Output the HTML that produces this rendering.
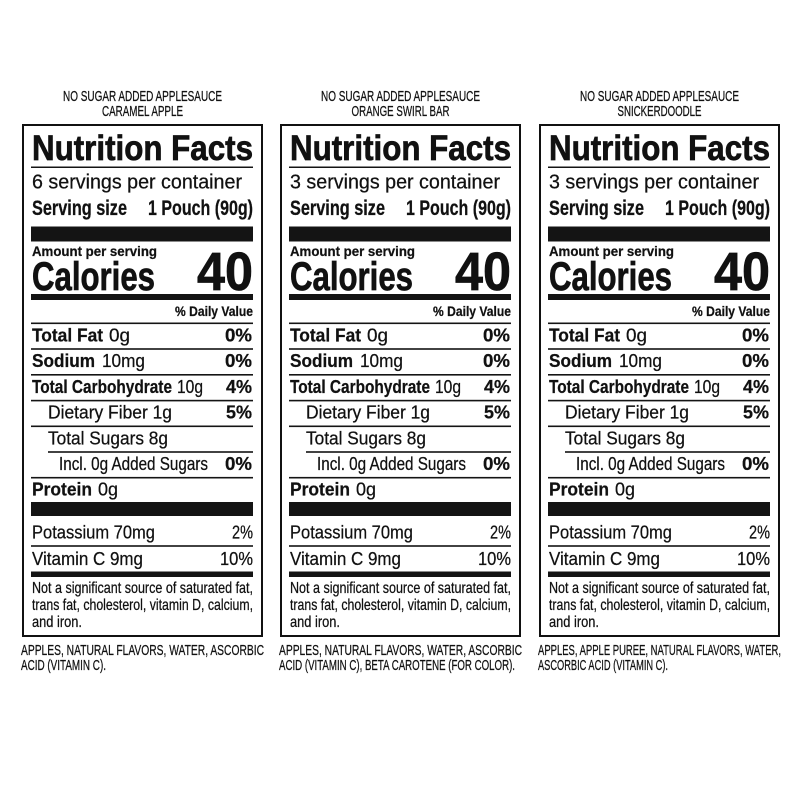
<!DOCTYPE html>
<html>
<head>
<meta charset="utf-8">
<style>
  html,body{margin:0;padding:0;background:#fff;}
  svg{display:block;}
  text{font-family:"Liberation Sans", Arial, sans-serif;fill:#111;stroke:#111;stroke-width:0.25;}
  .b{font-weight:bold;}
  .h{stroke:#111;stroke-width:0.7;}
  rect.f{fill:#141414;stroke:none;}
</style>
</head>
<body>
<svg width="800" height="800" viewBox="0 0 800 800" xmlns="http://www.w3.org/2000/svg">
<rect x="0" y="0" width="800" height="800" fill="#fff"/>

<!-- PANEL 1 -->
<g transform="translate(0,0)">
<text x="142.5" y="101" font-size="14.5" text-anchor="middle" textLength="159" lengthAdjust="spacingAndGlyphs">NO SUGAR ADDED APPLESAUCE</text>
<text x="142.5" y="116" font-size="14.5" text-anchor="middle" textLength="81" lengthAdjust="spacingAndGlyphs">CARAMEL APPLE</text>
<rect x="23" y="125" width="239" height="511" fill="none" stroke="#111" stroke-width="2"/>
<text class="b h" x="32" y="160" font-size="35" textLength="221" lengthAdjust="spacingAndGlyphs">Nutrition Facts</text>
<rect class="f" x="31" y="166.5" width="222" height="1.5"/>
<text x="32" y="188.5" font-size="20" textLength="210" lengthAdjust="spacingAndGlyphs">6 servings per container</text>
<text class="b" x="32" y="215" font-size="21" textLength="95" lengthAdjust="spacingAndGlyphs">Serving size</text>
<text class="b" x="148" y="215" font-size="21" textLength="105" lengthAdjust="spacingAndGlyphs">1 Pouch (90g)</text>
<rect class="f" x="31" y="226.5" width="222" height="15"/>
<text class="b" x="32" y="256" font-size="13.5" textLength="125" lengthAdjust="spacingAndGlyphs">Amount per serving</text>
<text class="b h" x="32" y="290" font-size="40" textLength="123" lengthAdjust="spacingAndGlyphs">Calories</text>
<text class="b h" x="197" y="290" font-size="54" textLength="56" lengthAdjust="spacingAndGlyphs">40</text>
<rect class="f" x="31" y="294" width="222" height="6"/>
<text class="b" x="175" y="316" font-size="14" textLength="78" lengthAdjust="spacingAndGlyphs">% Daily Value</text>
<rect class="f" x="31" y="322.5" width="222" height="1.6"/>
<text class="b" x="32" y="341.5" font-size="18.5" textLength="71" lengthAdjust="spacingAndGlyphs">Total Fat</text>
<text x="109" y="341.5" font-size="18.5" textLength="21" lengthAdjust="spacingAndGlyphs">0g</text>
<text class="b" x="225" y="341.5" font-size="18.5" textLength="27" lengthAdjust="spacingAndGlyphs">0%</text>
<rect class="f" x="31" y="348.2" width="222" height="1.6"/>
<text class="b" x="32" y="367.2" font-size="18.5" textLength="63" lengthAdjust="spacingAndGlyphs">Sodium</text>
<text x="102" y="367.2" font-size="18.5" textLength="43" lengthAdjust="spacingAndGlyphs">10mg</text>
<text class="b" x="225" y="367.2" font-size="18.5" textLength="27" lengthAdjust="spacingAndGlyphs">0%</text>
<rect class="f" x="31" y="374" width="222" height="1.6"/>
<text class="b" x="32" y="392.9" font-size="18.5" textLength="140" lengthAdjust="spacingAndGlyphs">Total Carbohydrate</text>
<text x="177" y="392.9" font-size="18.5" textLength="26" lengthAdjust="spacingAndGlyphs">10g</text>
<text class="b" x="226" y="392.9" font-size="18.5" textLength="26" lengthAdjust="spacingAndGlyphs">4%</text>
<rect class="f" x="31" y="399.8" width="222" height="1.6"/>
<text x="48" y="418.6" font-size="18.5" textLength="124" lengthAdjust="spacingAndGlyphs">Dietary Fiber 1g</text>
<text class="b" x="226" y="418.6" font-size="18.5" textLength="26" lengthAdjust="spacingAndGlyphs">5%</text>
<rect class="f" x="31" y="425.5" width="222" height="1.6"/>
<text x="48" y="444.3" font-size="18.5" textLength="120" lengthAdjust="spacingAndGlyphs">Total Sugars 8g</text>
<rect class="f" x="48" y="451.2" width="205" height="1.6"/>
<text x="59" y="470" font-size="18.5" textLength="149" lengthAdjust="spacingAndGlyphs">Incl. 0g Added Sugars</text>
<text class="b" x="225" y="470" font-size="18.5" textLength="27" lengthAdjust="spacingAndGlyphs">0%</text>
<rect class="f" x="31" y="476.9" width="222" height="1.6"/>
<text class="b" x="32" y="495.7" font-size="18.5" textLength="60" lengthAdjust="spacingAndGlyphs">Protein</text>
<text x="98" y="495.7" font-size="18.5" textLength="20" lengthAdjust="spacingAndGlyphs">0g</text>
<rect class="f" x="31" y="502" width="222" height="14"/>
<text x="32" y="538.5" font-size="18.5" textLength="123" lengthAdjust="spacingAndGlyphs">Potassium 70mg</text>
<text x="232" y="538.5" font-size="18.5" textLength="21" lengthAdjust="spacingAndGlyphs">2%</text>
<rect class="f" x="31" y="545.2" width="222" height="1.6"/>
<text x="32" y="565" font-size="18.5" textLength="111" lengthAdjust="spacingAndGlyphs">Vitamin C 9mg</text>
<text x="220" y="565" font-size="18.5" textLength="33" lengthAdjust="spacingAndGlyphs">10%</text>
<rect class="f" x="31" y="571.5" width="222" height="5.5"/>
<text x="32" y="593" font-size="16" textLength="221" lengthAdjust="spacingAndGlyphs">Not a significant source of saturated fat,</text>
<text x="32" y="610" font-size="16" textLength="221" lengthAdjust="spacingAndGlyphs">trans fat, cholesterol, vitamin D, calcium,</text>
<text x="32" y="627" font-size="16" textLength="50" lengthAdjust="spacingAndGlyphs">and iron.</text>
<text x="21" y="655" font-size="14.5" textLength="243" lengthAdjust="spacingAndGlyphs">APPLES, NATURAL FLAVORS, WATER, ASCORBIC</text>
<text x="21" y="670" font-size="14.5" textLength="85" lengthAdjust="spacingAndGlyphs">ACID (VITAMIN C).</text>
</g>

<!-- PANEL 2 -->
<g transform="translate(258,0)">
<text x="142.5" y="101" font-size="14.5" text-anchor="middle" textLength="159" lengthAdjust="spacingAndGlyphs">NO SUGAR ADDED APPLESAUCE</text>
<text x="142.5" y="116" font-size="14.5" text-anchor="middle" textLength="98" lengthAdjust="spacingAndGlyphs">ORANGE SWIRL BAR</text>
<rect x="23" y="125" width="239" height="511" fill="none" stroke="#111" stroke-width="2"/>
<text class="b h" x="32" y="160" font-size="35" textLength="221" lengthAdjust="spacingAndGlyphs">Nutrition Facts</text>
<rect class="f" x="31" y="166.5" width="222" height="1.5"/>
<text x="32" y="188.5" font-size="20" textLength="210" lengthAdjust="spacingAndGlyphs">3 servings per container</text>
<text class="b" x="32" y="215" font-size="21" textLength="95" lengthAdjust="spacingAndGlyphs">Serving size</text>
<text class="b" x="148" y="215" font-size="21" textLength="105" lengthAdjust="spacingAndGlyphs">1 Pouch (90g)</text>
<rect class="f" x="31" y="226.5" width="222" height="15"/>
<text class="b" x="32" y="256" font-size="13.5" textLength="125" lengthAdjust="spacingAndGlyphs">Amount per serving</text>
<text class="b h" x="32" y="290" font-size="40" textLength="123" lengthAdjust="spacingAndGlyphs">Calories</text>
<text class="b h" x="197" y="290" font-size="54" textLength="56" lengthAdjust="spacingAndGlyphs">40</text>
<rect class="f" x="31" y="294" width="222" height="6"/>
<text class="b" x="175" y="316" font-size="14" textLength="78" lengthAdjust="spacingAndGlyphs">% Daily Value</text>
<rect class="f" x="31" y="322.5" width="222" height="1.6"/>
<text class="b" x="32" y="341.5" font-size="18.5" textLength="71" lengthAdjust="spacingAndGlyphs">Total Fat</text>
<text x="109" y="341.5" font-size="18.5" textLength="21" lengthAdjust="spacingAndGlyphs">0g</text>
<text class="b" x="225" y="341.5" font-size="18.5" textLength="27" lengthAdjust="spacingAndGlyphs">0%</text>
<rect class="f" x="31" y="348.2" width="222" height="1.6"/>
<text class="b" x="32" y="367.2" font-size="18.5" textLength="63" lengthAdjust="spacingAndGlyphs">Sodium</text>
<text x="102" y="367.2" font-size="18.5" textLength="43" lengthAdjust="spacingAndGlyphs">10mg</text>
<text class="b" x="225" y="367.2" font-size="18.5" textLength="27" lengthAdjust="spacingAndGlyphs">0%</text>
<rect class="f" x="31" y="374" width="222" height="1.6"/>
<text class="b" x="32" y="392.9" font-size="18.5" textLength="140" lengthAdjust="spacingAndGlyphs">Total Carbohydrate</text>
<text x="177" y="392.9" font-size="18.5" textLength="26" lengthAdjust="spacingAndGlyphs">10g</text>
<text class="b" x="226" y="392.9" font-size="18.5" textLength="26" lengthAdjust="spacingAndGlyphs">4%</text>
<rect class="f" x="31" y="399.8" width="222" height="1.6"/>
<text x="48" y="418.6" font-size="18.5" textLength="124" lengthAdjust="spacingAndGlyphs">Dietary Fiber 1g</text>
<text class="b" x="226" y="418.6" font-size="18.5" textLength="26" lengthAdjust="spacingAndGlyphs">5%</text>
<rect class="f" x="31" y="425.5" width="222" height="1.6"/>
<text x="48" y="444.3" font-size="18.5" textLength="120" lengthAdjust="spacingAndGlyphs">Total Sugars 8g</text>
<rect class="f" x="48" y="451.2" width="205" height="1.6"/>
<text x="59" y="470" font-size="18.5" textLength="149" lengthAdjust="spacingAndGlyphs">Incl. 0g Added Sugars</text>
<text class="b" x="225" y="470" font-size="18.5" textLength="27" lengthAdjust="spacingAndGlyphs">0%</text>
<rect class="f" x="31" y="476.9" width="222" height="1.6"/>
<text class="b" x="32" y="495.7" font-size="18.5" textLength="60" lengthAdjust="spacingAndGlyphs">Protein</text>
<text x="98" y="495.7" font-size="18.5" textLength="20" lengthAdjust="spacingAndGlyphs">0g</text>
<rect class="f" x="31" y="502" width="222" height="14"/>
<text x="32" y="538.5" font-size="18.5" textLength="123" lengthAdjust="spacingAndGlyphs">Potassium 70mg</text>
<text x="232" y="538.5" font-size="18.5" textLength="21" lengthAdjust="spacingAndGlyphs">2%</text>
<rect class="f" x="31" y="545.2" width="222" height="1.6"/>
<text x="32" y="565" font-size="18.5" textLength="111" lengthAdjust="spacingAndGlyphs">Vitamin C 9mg</text>
<text x="220" y="565" font-size="18.5" textLength="33" lengthAdjust="spacingAndGlyphs">10%</text>
<rect class="f" x="31" y="571.5" width="222" height="5.5"/>
<text x="32" y="593" font-size="16" textLength="221" lengthAdjust="spacingAndGlyphs">Not a significant source of saturated fat,</text>
<text x="32" y="610" font-size="16" textLength="221" lengthAdjust="spacingAndGlyphs">trans fat, cholesterol, vitamin D, calcium,</text>
<text x="32" y="627" font-size="16" textLength="50" lengthAdjust="spacingAndGlyphs">and iron.</text>
<text x="21" y="655" font-size="14.5" textLength="243" lengthAdjust="spacingAndGlyphs">APPLES, NATURAL FLAVORS, WATER, ASCORBIC</text>
<text x="21" y="670" font-size="14.5" textLength="236" lengthAdjust="spacingAndGlyphs">ACID (VITAMIN C), BETA CAROTENE (FOR COLOR).</text>
</g>

<!-- PANEL 3 -->
<g transform="translate(517,0)">
<text x="142.5" y="101" font-size="14.5" text-anchor="middle" textLength="159" lengthAdjust="spacingAndGlyphs">NO SUGAR ADDED APPLESAUCE</text>
<text x="142.5" y="116" font-size="14.5" text-anchor="middle" textLength="84" lengthAdjust="spacingAndGlyphs">SNICKERDOODLE</text>
<rect x="23" y="125" width="239" height="511" fill="none" stroke="#111" stroke-width="2"/>
<text class="b h" x="32" y="160" font-size="35" textLength="221" lengthAdjust="spacingAndGlyphs">Nutrition Facts</text>
<rect class="f" x="31" y="166.5" width="222" height="1.5"/>
<text x="32" y="188.5" font-size="20" textLength="210" lengthAdjust="spacingAndGlyphs">3 servings per container</text>
<text class="b" x="32" y="215" font-size="21" textLength="95" lengthAdjust="spacingAndGlyphs">Serving size</text>
<text class="b" x="148" y="215" font-size="21" textLength="105" lengthAdjust="spacingAndGlyphs">1 Pouch (90g)</text>
<rect class="f" x="31" y="226.5" width="222" height="15"/>
<text class="b" x="32" y="256" font-size="13.5" textLength="125" lengthAdjust="spacingAndGlyphs">Amount per serving</text>
<text class="b h" x="32" y="290" font-size="40" textLength="123" lengthAdjust="spacingAndGlyphs">Calories</text>
<text class="b h" x="197" y="290" font-size="54" textLength="56" lengthAdjust="spacingAndGlyphs">40</text>
<rect class="f" x="31" y="294" width="222" height="6"/>
<text class="b" x="175" y="316" font-size="14" textLength="78" lengthAdjust="spacingAndGlyphs">% Daily Value</text>
<rect class="f" x="31" y="322.5" width="222" height="1.6"/>
<text class="b" x="32" y="341.5" font-size="18.5" textLength="71" lengthAdjust="spacingAndGlyphs">Total Fat</text>
<text x="109" y="341.5" font-size="18.5" textLength="21" lengthAdjust="spacingAndGlyphs">0g</text>
<text class="b" x="225" y="341.5" font-size="18.5" textLength="27" lengthAdjust="spacingAndGlyphs">0%</text>
<rect class="f" x="31" y="348.2" width="222" height="1.6"/>
<text class="b" x="32" y="367.2" font-size="18.5" textLength="63" lengthAdjust="spacingAndGlyphs">Sodium</text>
<text x="102" y="367.2" font-size="18.5" textLength="43" lengthAdjust="spacingAndGlyphs">10mg</text>
<text class="b" x="225" y="367.2" font-size="18.5" textLength="27" lengthAdjust="spacingAndGlyphs">0%</text>
<rect class="f" x="31" y="374" width="222" height="1.6"/>
<text class="b" x="32" y="392.9" font-size="18.5" textLength="140" lengthAdjust="spacingAndGlyphs">Total Carbohydrate</text>
<text x="177" y="392.9" font-size="18.5" textLength="26" lengthAdjust="spacingAndGlyphs">10g</text>
<text class="b" x="226" y="392.9" font-size="18.5" textLength="26" lengthAdjust="spacingAndGlyphs">4%</text>
<rect class="f" x="31" y="399.8" width="222" height="1.6"/>
<text x="48" y="418.6" font-size="18.5" textLength="124" lengthAdjust="spacingAndGlyphs">Dietary Fiber 1g</text>
<text class="b" x="226" y="418.6" font-size="18.5" textLength="26" lengthAdjust="spacingAndGlyphs">5%</text>
<rect class="f" x="31" y="425.5" width="222" height="1.6"/>
<text x="48" y="444.3" font-size="18.5" textLength="120" lengthAdjust="spacingAndGlyphs">Total Sugars 8g</text>
<rect class="f" x="48" y="451.2" width="205" height="1.6"/>
<text x="59" y="470" font-size="18.5" textLength="149" lengthAdjust="spacingAndGlyphs">Incl. 0g Added Sugars</text>
<text class="b" x="225" y="470" font-size="18.5" textLength="27" lengthAdjust="spacingAndGlyphs">0%</text>
<rect class="f" x="31" y="476.9" width="222" height="1.6"/>
<text class="b" x="32" y="495.7" font-size="18.5" textLength="60" lengthAdjust="spacingAndGlyphs">Protein</text>
<text x="98" y="495.7" font-size="18.5" textLength="20" lengthAdjust="spacingAndGlyphs">0g</text>
<rect class="f" x="31" y="502" width="222" height="14"/>
<text x="32" y="538.5" font-size="18.5" textLength="123" lengthAdjust="spacingAndGlyphs">Potassium 70mg</text>
<text x="232" y="538.5" font-size="18.5" textLength="21" lengthAdjust="spacingAndGlyphs">2%</text>
<rect class="f" x="31" y="545.2" width="222" height="1.6"/>
<text x="32" y="565" font-size="18.5" textLength="111" lengthAdjust="spacingAndGlyphs">Vitamin C 9mg</text>
<text x="220" y="565" font-size="18.5" textLength="33" lengthAdjust="spacingAndGlyphs">10%</text>
<rect class="f" x="31" y="571.5" width="222" height="5.5"/>
<text x="32" y="593" font-size="16" textLength="221" lengthAdjust="spacingAndGlyphs">Not a significant source of saturated fat,</text>
<text x="32" y="610" font-size="16" textLength="221" lengthAdjust="spacingAndGlyphs">trans fat, cholesterol, vitamin D, calcium,</text>
<text x="32" y="627" font-size="16" textLength="50" lengthAdjust="spacingAndGlyphs">and iron.</text>
<text x="21" y="655" font-size="14.5" textLength="243" lengthAdjust="spacingAndGlyphs">APPLES, APPLE PUREE, NATURAL FLAVORS, WATER,</text>
<text x="21" y="670" font-size="14.5" textLength="130" lengthAdjust="spacingAndGlyphs">ASCORBIC ACID (VITAMIN C).</text>
</g>
</svg>
</body>
</html>
